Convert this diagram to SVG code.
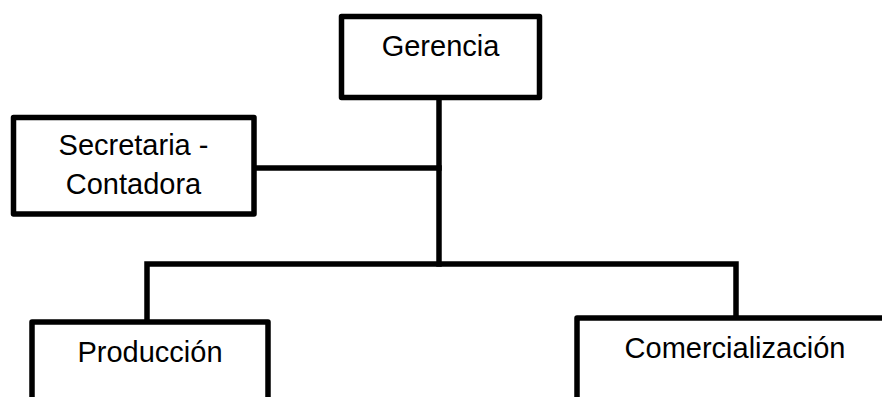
<svg xmlns="http://www.w3.org/2000/svg" width="882" height="397" viewBox="0 0 882 397">
<style>
.box{fill:#fff;stroke:#000;stroke-width:5.5;stroke-linejoin:round}
.ln{fill:none;stroke:#000;stroke-width:5.5;stroke-linejoin:miter;stroke-linecap:square}
.t{font-family:"Liberation Sans",Arial,sans-serif;font-size:29px;fill:#000;text-anchor:middle}
</style>
<rect width="882" height="397" fill="#fff"/>
<g id="connectors">
<line class="ln" x1="439" y1="98" x2="439" y2="264"/>
<line class="ln" x1="256" y1="168" x2="439" y2="168"/>
<polyline class="ln" points="147,320 147,264 736,264 736,316"/>
</g>
<g id="gerencia">
<rect class="box" x="341.5" y="16.5" width="198" height="81"/>
<text class="t" x="440.5" y="56">Gerencia</text>
</g>
<g id="secretaria">
<rect class="box" x="13.5" y="117.5" width="240.5" height="96.5"/>
<text class="t" x="133.5" y="155">Secretaria -</text>
<text class="t" x="133.5" y="194">Contadora</text>
</g>
<g id="produccion">
<rect class="box" x="32" y="322" width="236" height="120"/>
<text class="t" x="150" y="362">Producción</text>
</g>
<g id="comercializacion">
<rect class="box" x="577" y="318" width="340" height="120"/>
<text class="t" x="735" y="358">Comercialización</text>
</g>
</svg>
